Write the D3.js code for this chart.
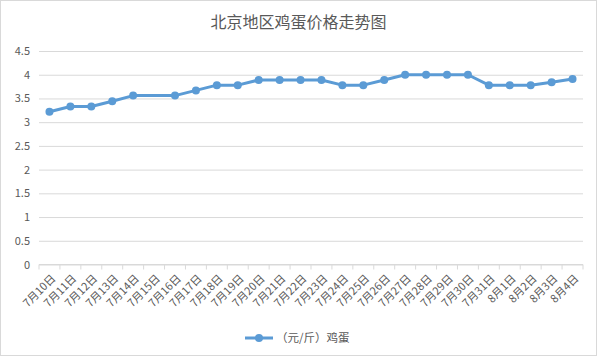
<!DOCTYPE html>
<html><head><meta charset="utf-8">
<script src="https://cdn.jsdelivr.net/npm/d3@7"></script>
<style>
html,body{margin:0;padding:0;background:#fff;}
svg{display:block;font-family:"Noto Sans CJK SC","Noto Sans",sans-serif;}
</style></head><body>
<svg id="c" width="597" height="356"></svg>
<script>
const title = "北京地区鸡蛋价格走势图";
const seriesName = "（元/斤）鸡蛋";
const categories = ["7月10日","7月11日","7月12日","7月13日","7月14日","7月15日","7月16日","7月17日","7月18日","7月19日","7月20日","7月21日","7月22日","7月23日","7月24日","7月25日","7月26日","7月27日","7月28日","7月29日","7月30日","7月31日","8月1日","8月2日","8月3日","8月4日"];
const values = [3.22,3.33,3.33,3.44,3.56,null,3.56,3.67,3.78,3.78,3.89,3.89,3.89,3.89,3.78,3.78,3.89,4.0,4.0,4.0,4.0,3.78,3.78,3.78,3.84,3.91];
const yTicks = [0,0.5,1,1.5,2,2.5,3,3.5,4,4.5];

const svg = d3.select("#c");
const W = 597, H = 356;
const color = "#5b9bd5", textColor = "#595959", gridColor = "#d9d9d9";
svg.append("rect").attr("x",0.5).attr("y",0.5).attr("width",W-1).attr("height",H-1)
  .attr("fill","#fff").attr("stroke","#d9d9d9");

const m = {l:39, r:583, t:51, b:264.5};
const x = d3.scaleBand().domain(categories).range([m.l, m.r]);
const y = d3.scaleLinear().domain([0,4.5]).range([m.b, m.t]);

svg.append("text").attr("x",W/2).attr("y",28).attr("text-anchor","middle")
  .attr("font-size",16).attr("fill",textColor).text(title);

// grid
const ya = svg.append("g").attr("transform",`translate(${m.l},0)`)
  .call(d3.axisLeft(y).tickValues(yTicks).tickSize(-(m.r-m.l)).tickPadding(9).tickFormat(d3.format("")));
ya.select(".domain").remove();
ya.selectAll(".tick line").attr("stroke",gridColor).attr("stroke-width",1);
ya.selectAll(".tick text").attr("fill",textColor).attr("font-size",11).attr("font-family","Noto Sans CJK SC, sans-serif");

// x axis
const xa = svg.append("g").attr("transform",`translate(0,${m.b})`);
xa.append("line").attr("x1",m.l).attr("x2",m.r).attr("stroke",gridColor);
const bounds = categories.map(c=>x(c)).concat([m.r]);
xa.selectAll("line.tk").data(bounds).join("line").attr("class","tk")
  .attr("x1",d=>d).attr("x2",d=>d).attr("y1",0).attr("y2",5).attr("stroke",gridColor);
xa.selectAll("text").data(categories).join("text")
  .attr("transform",d=>`translate(${x(d)+x.bandwidth()/2+4},${12}) rotate(-45)`)
  .attr("text-anchor","end").attr("dy","0.35em")
  .attr("font-size",11).attr("fill",textColor).text(d=>d);

// line
const pts = categories.map((c,i)=>({c, v:values[i]})).filter(d=>d.v!=null);
const line = d3.line().x(d=>x(d.c)+x.bandwidth()/2).y(d=>y(d.v));
svg.append("path").datum(pts).attr("d",line).attr("fill","none")
  .attr("stroke",color).attr("stroke-width",3).attr("stroke-linejoin","round");
svg.selectAll("circle.pt").data(pts).join("circle").attr("class","pt")
  .attr("cx",d=>x(d.c)+x.bandwidth()/2).attr("cy",d=>y(d.v)).attr("r",4).attr("fill",color);

// legend
const lg = svg.append("g").attr("transform","translate(245,338)");
lg.append("line").attr("x1",0).attr("x2",28).attr("stroke",color).attr("stroke-width",3);
lg.append("circle").attr("cx",14).attr("r",4).attr("fill",color);
lg.append("text").attr("x",31).attr("dy","0.35em").attr("font-size",11.5).attr("fill",textColor).text(seriesName);
</script>
</body></html>
